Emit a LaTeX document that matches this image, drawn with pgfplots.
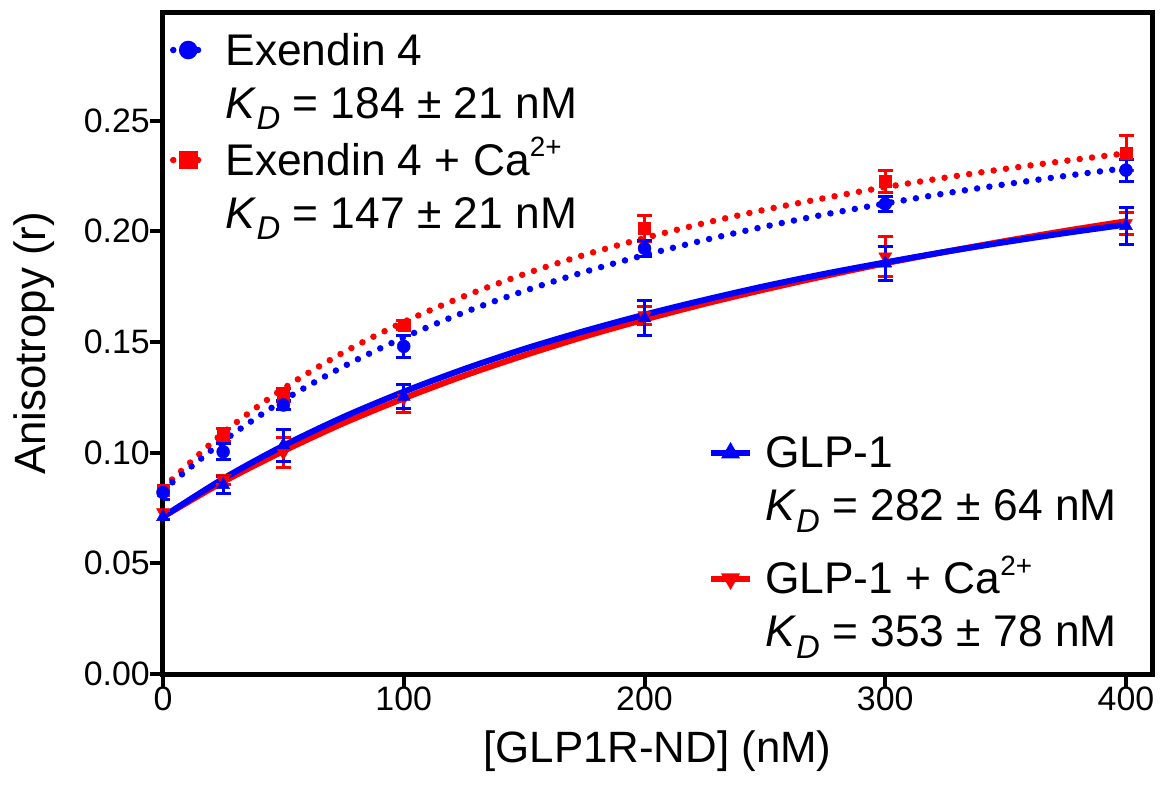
\documentclass[border=0pt]{standalone}
\usepackage{fontspec}
\setmainfont{Liberation Sans}
\usepackage{pgfplots}
\usepackage{pgfplotstable}
\pgfplotsset{compat=1.18}
\newcommand\tickfont{\fontsize{34}{40}\selectfont}
\newcommand\labfont{\fontsize{44}{50}\selectfont}
\newcommand\legfont{\fontsize{44.5}{50}\selectfont}
\newcommand\KD{\textit{K}\raisebox{-0.25em}{\fontsize{33}{33}\selectfont\textit{D}}}
\newcommand\Ca{Ca\raisebox{0.42em}{\fontsize{28}{28}\selectfont 2+}}

% measured points: x, mean, error
\pgfplotstableread{
x y e
0   0.0820 0.0030
25  0.1004 0.0035
50  0.1215 0.0020
100 0.1480 0.0050
200 0.1923 0.0035
300 0.2123 0.0034
400 0.2276 0.0050
}\exfour
\pgfplotstableread{
x y e
0   0.0830 0.0020
25  0.1080 0.0030
50  0.1260 0.0030
100 0.1576 0.0020
200 0.2013 0.0060
300 0.2224 0.0050
400 0.2352 0.0080
}\exca
\pgfplotstableread{
x y e
0   0.0710 0.0010
25  0.0854 0.0040
50  0.1034 0.0072
100 0.1253 0.0056
200 0.1607 0.0079
300 0.1855 0.0077
400 0.2024 0.0085
}\glp
\pgfplotstableread{
x y e
0   0.0730 0.0010
25  0.0876 0.0020
50  0.1000 0.0068
100 0.1246 0.0063
200 0.1620 0.0040
300 0.1885 0.0090
400 0.2036 0.0050
}\glpca
% fitted curves
\pgfplotstableread{
x y
0   0.0830
25  0.1052
50  0.1236
75  0.1389
100 0.1520
125 0.1633
150 0.1730
175 0.1816
200 0.1892
225 0.1960
250 0.2021
275 0.2076
300 0.2125
325 0.2171
350 0.2212
375 0.2250
400 0.2285
}\exfourfit
\pgfplotstableread{
x y
0   0.0840
25  0.1089
50  0.1289
75  0.1453
100 0.1590
125 0.1706
150 0.1806
175 0.1893
200 0.1969
225 0.2037
250 0.2097
275 0.2150
300 0.2199
325 0.2242
350 0.2282
375 0.2318
400 0.2352
}\excafit
\pgfplotstableread{
x y
0   0.0710
25  0.0882
50  0.1031
75  0.1161
100 0.1275
125 0.1377
150 0.1468
175 0.1549
200 0.1623
225 0.1690
250 0.1752
275 0.1808
300 0.1859
325 0.1907
350 0.1951
375 0.1992
400 0.2030
}\glpfit
\pgfplotstableread{
x y
0   0.0710
25  0.0868
50  0.1007
75  0.1133
100 0.1245
125 0.1347
150 0.1439
175 0.1524
200 0.1601
225 0.1672
250 0.1737
275 0.1798
300 0.1855
325 0.1907
350 0.1956
375 0.2002
400 0.2045
}\glpcafit

\pgfplotsset{
  base/.style={
    at={(0,0)}, anchor=south west, scale only axis,
    width=989bp, height=661.3bp,
    xmin=0, xmax=410.8, ymin=0, ymax=0.2987,
  },
  dotline/.style={line width=6.5bp, line cap=round, dash pattern=on 0bp off 12.4bp},
  ebars/.style={error bars/.cd, y dir=both, y explicit,
    error bar style={line width=3bp, #1},
    error mark options={rotate=90, mark size=7.5bp, line width=3bp, #1}},
}

\begin{document}
\begin{tikzpicture}
\path[use as bounding box] (-163bp,-113bp) rectangle (997bp,674bp);
\begin{axis}[base,
  axis line style={line width=5bp},
  tick align=outside, tick pos=left,
  major tick length=13bp,
  major tick style={line width=4bp, black},
  xtick={0,100,200,300,400},
  ytick={0,0.05,0.1,0.15,0.2,0.25},
  /pgf/number format/assume math mode=true,
  xticklabel style={font=\tickfont, inner sep=0pt},
  yticklabel style={font=\tickfont, inner sep=0pt, /pgf/number format/.cd, fixed, fixed zerofill, precision=2},
  xlabel={[GLP1R-ND] (nM)},
  ylabel={Anisotropy (r)},
  xlabel style={font=\labfont, inner sep=0pt, at={(axis description cs:0.5,-0.0862)}, anchor=north},
  ylabel style={font=\labfont, inner sep=0pt, at={(axis description cs:-0.109,0.5)}, anchor=south},
  legend image code/.code={\draw[mark repeat=2, mark phase=2, #1] plot coordinates {(0bp,15bp) (15bp,15bp) (30bp,15bp)};},
  legend style={at={(axis description cs:0.0071,0.9753)}, anchor=north west, draw=none, fill=none,
    inner sep=0pt, outer sep=0pt, row sep=11bp, column sep=19bp, font=\legfont,
    cells={anchor=base west}, nodes={inner sep=0pt, text height=36bp, text depth=6bp}},
]
% fitted curves
\addplot[red, dotline, smooth, forget plot] table[x=x,y=y] {\excafit};
\addplot[blue, dotline, smooth, forget plot] table[x=x,y=y] {\exfourfit};
\addplot[red, line width=6bp, smooth, forget plot] table[x=x,y=y] {\glpcafit};
\addplot[blue, line width=6bp, smooth, forget plot] table[x=x,y=y] {\glpfit};
% data points
\addplot[red, only marks, mark=square*, mark size=6bp, forget plot, ebars=red] table[x=x,y=y,y error=e] {\exca};
\addplot[red, only marks, mark=triangle*, mark size=7.5bp, mark options={rotate=180}, forget plot, ebars=red] table[x=x,y=y,y error=e] {\glpca};
\addplot[blue, only marks, mark=*, mark size=6.5bp, forget plot, ebars=blue] table[x=x,y=y,y error=e] {\exfour};
\addplot[blue, only marks, mark=triangle*, mark size=7.5bp, forget plot, ebars=blue] table[x=x,y=y,y error=e] {\glp};
% legend (upper left)
\addlegendimage{blue, dotline, mark=*, mark size=6bp, mark options={solid}}
\addlegendentry{Exendin 4}
\addlegendimage{empty legend}
\addlegendentry{\KD{} = 184 ± 21 nM}
\addlegendimage{red, dotline, mark=square*, mark size=6bp, mark options={solid}}
\addlegendentry[text height=40bp]{Exendin 4 + \Ca}
\addlegendimage{empty legend}
\addlegendentry{\KD{} = 147 ± 21 nM}
\end{axis}
\begin{axis}[base, hide axis,
  legend image code/.code={\draw[mark repeat=2, mark phase=2, #1] plot coordinates {(0bp,15bp) (19.5bp,15bp) (39bp,15bp)};},
  legend style={at={(axis description cs:0.5511,0.366)}, anchor=north west, draw=none, fill=none,
    inner sep=0pt, outer sep=0pt, row sep=11bp, column sep=12bp, font=\legfont,
    cells={anchor=base west}, nodes={inner sep=0pt, text height=36bp, text depth=6bp}},
]
\addplot[draw=none, forget plot] coordinates {(0,0)};
\addlegendimage{blue, line width=6bp, mark=triangle*, mark size=5bp}
\addlegendentry{GLP-1}
\addlegendimage{empty legend}
\addlegendentry{\KD{} = 282 ± 64 nM}
\addlegendimage{red, line width=6bp, mark=triangle*, mark size=5bp, mark options={rotate=180}}
\addlegendentry[text height=56bp]{GLP-1 + \Ca}
\addlegendimage{empty legend}
\addlegendentry{\KD{} = 353 ± 78 nM}
\end{axis}
\end{tikzpicture}
\end{document}
